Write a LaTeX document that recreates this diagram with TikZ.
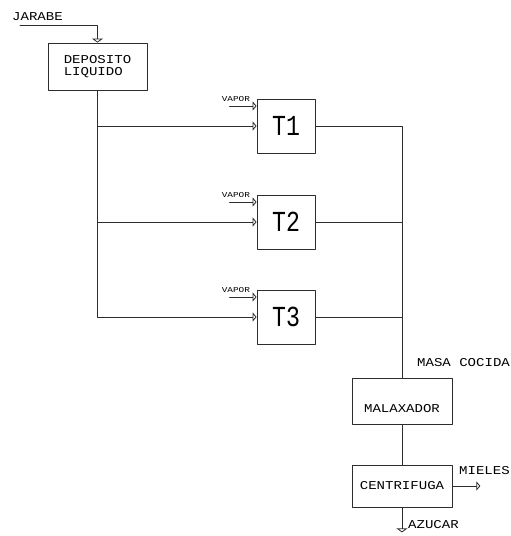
\documentclass[tikz,border=0pt]{standalone}
\usepackage{fontspec}
\usetikzlibrary{arrows.meta,positioning}
\newfontfamily\cadfont{Liberation Mono}[FakeStretch=1.17]
\newfontfamily\cadsmall{Liberation Mono}[FakeStretch=1.25]
\newfontfamily\cadbig{Liberation Mono}[FakeStretch=0.8]
\begin{document}
\begin{tikzpicture}[x=1pt,y=-1pt,line cap=round,line join=round,
  box/.style={draw=linegray,line width=0.8pt,inner sep=0pt},
  flow/.style={draw=linegray,line width=0.8pt},
  feed/.style={flow,-{Triangle[open,length=4pt,width=9pt]}},
  drop/.style={flow,-{Triangle[open,length=4pt,width=11pt]}},
  tag/.style={font=\cadfont\fontsize{12}{12}\selectfont,inner sep=0pt},
  vap/.style={font=\cadsmall\fontsize{7.5}{7.5}\selectfont,inner sep=0pt},
  tank/.style={box,minimum width=58pt,minimum height=54pt,font=\cadbig\fontsize{29}{29}\selectfont}]
\definecolor{linegray}{RGB}{45,45,45}

\newcommand{\vaporin}[1]{
  \coordinate (v#1) at ([xshift=-27pt,yshift=20pt]#1.west);
  \draw[feed] (v#1) -- (v#1 -| #1.west);
  \node[vap,anchor=west] (l#1) at ([xshift=-8pt,yshift=7pt]v#1) {VAPOR};
}

\useasboundingbox (0,0) rectangle (511,536);

\node[box,tag,minimum width=99pt,minimum height=47pt,align=left] (dep) at (97.5,66.5) {DEPOSITO\\LIQUIDO};
\node[tank] (t1) at (286,126) {T1};
\node[tank] (t2) at (286,222) {T2};
\node[tank] (t3) at (286,317) {T3};
\node[box,minimum width=100pt,minimum height=46pt,
  label={[tag,yshift=-8pt]center:MALAXADOR}] (mal) at (402,401) {};
\node[box,tag,minimum width=100pt,minimum height=42pt] (cen) at (402,486) {CENTRIFUGA};

\coordinate (jar) at (20,25);
\node[tag,anchor=west] (jarlbl) at (12,17) {JARABE};
\draw[drop] (jar) -| (dep.north);

\foreach \t in {t1,t2,t3} {
  \draw[feed] (dep.south) |- (\t.west);
  \vaporin{\t}
}

\draw[flow] (t1.east) -| (mal.north);
\draw[flow] (t2.east) -- (t2.east -| mal.north);
\draw[flow] (t3.east) -- (t3.east -| mal.north);
\node[tag,anchor=west] (masa) at (417,363) {MASA COCIDA};

\draw[flow] (mal) -- (cen);

\coordinate (mie) at ([xshift=28pt]cen.east);
\draw[feed] (cen.east) -- (mie);
\node[tag,anchor=west] (mielbl) at (459,471) {MIELES};

\coordinate (azu) at ([yshift=-25pt]cen.south);
\draw[drop] (cen.south) -- (azu);
\node[tag,anchor=west] (azulbl) at (408,525) {AZUCAR};
\end{tikzpicture}
\end{document}
